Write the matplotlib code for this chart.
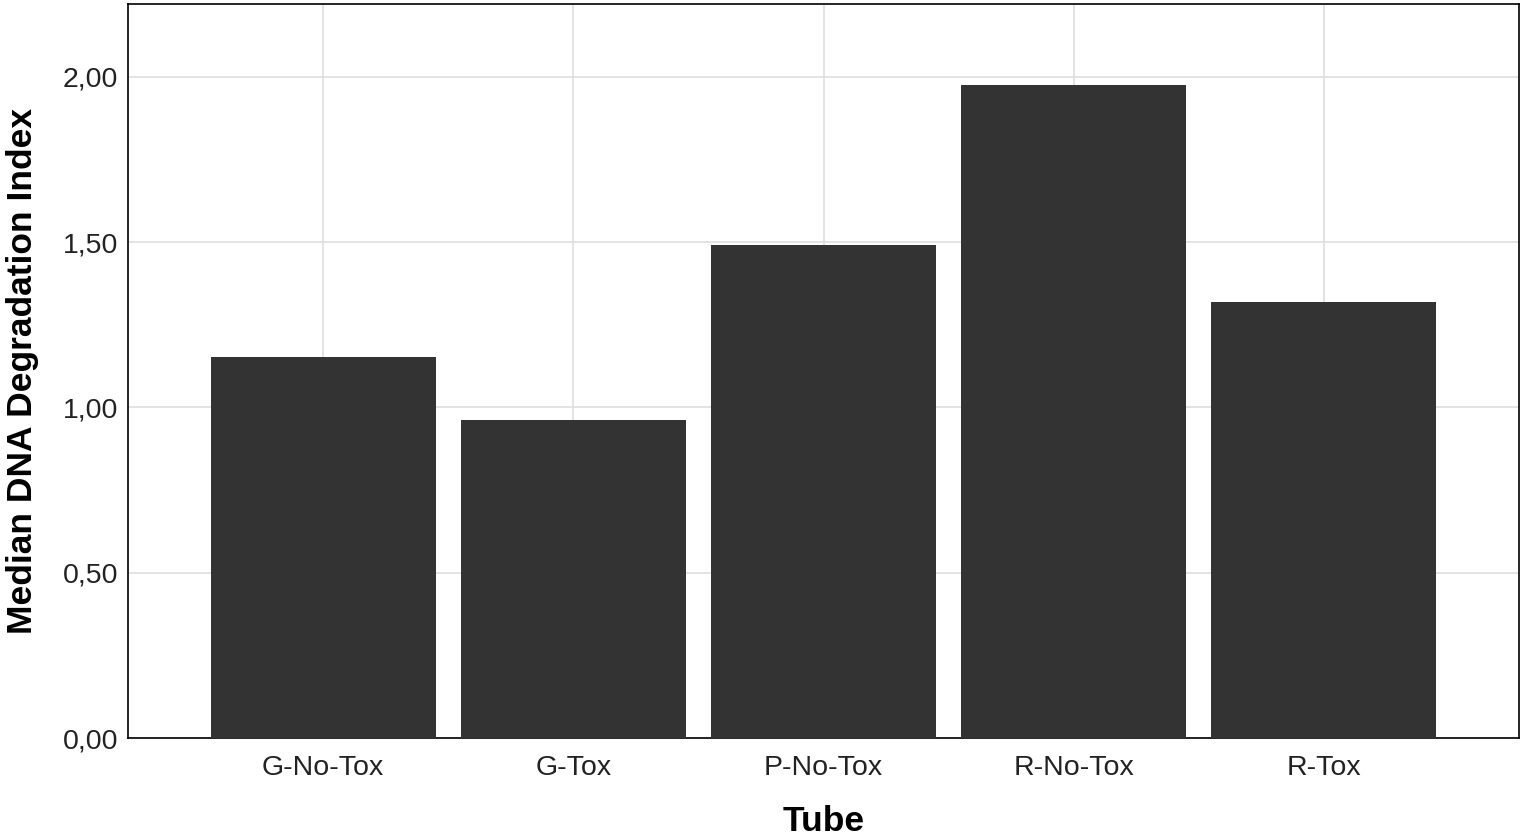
import matplotlib
matplotlib.use("Agg")
import matplotlib.pyplot as plt
from matplotlib.ticker import FuncFormatter

categories = ["G-No-Tox", "G-Tox", "P-No-Tox", "R-No-Tox", "R-Tox"]
values = [1.151, 0.961, 1.492, 1.976, 1.320]
yticks = [0.0, 0.5, 1.0, 1.5, 2.0]

plt.rcParams['font.family'] = ['Liberation Sans', 'DejaVu Sans']

fig = plt.figure(figsize=(15.24, 8.39), dpi=100)
ax = fig.add_axes([128/1524, 101/839, (1519-128)/1524, (738-4)/839])

x = list(range(len(categories)))
ax.bar(x, values, width=0.9, color="#333333", zorder=3)

ax.set_xlim(-0.78, len(categories) - 1 + 0.78)
ax.set_ylim(0, 2.22)
ax.set_yticks(yticks)
ax.yaxis.set_major_formatter(FuncFormatter(lambda v, p: f"{v:.2f}".replace(".", ",")))
ax.set_xticks(x)
ax.set_xticklabels(categories)

ax.grid(True, color="#dedede", linewidth=1.2, zorder=0)
ax.set_axisbelow(True)
ax.tick_params(axis="both", length=0, labelsize=20.5, labelcolor="#222222")
ax.tick_params(axis="x", pad=12.5)
ax.tick_params(axis="y", pad=7)

for s in ax.spines.values():
    s.set_color("#000000")
    s.set_linewidth(1.2)

ax.set_ylabel("Median DNA Degradation Index", fontsize=25.5, fontweight="bold", labelpad=17)
ax.set_xlabel("Tube", fontsize=25.5, fontweight="bold", labelpad=17)

fig.savefig("out.png", dpi=100)
